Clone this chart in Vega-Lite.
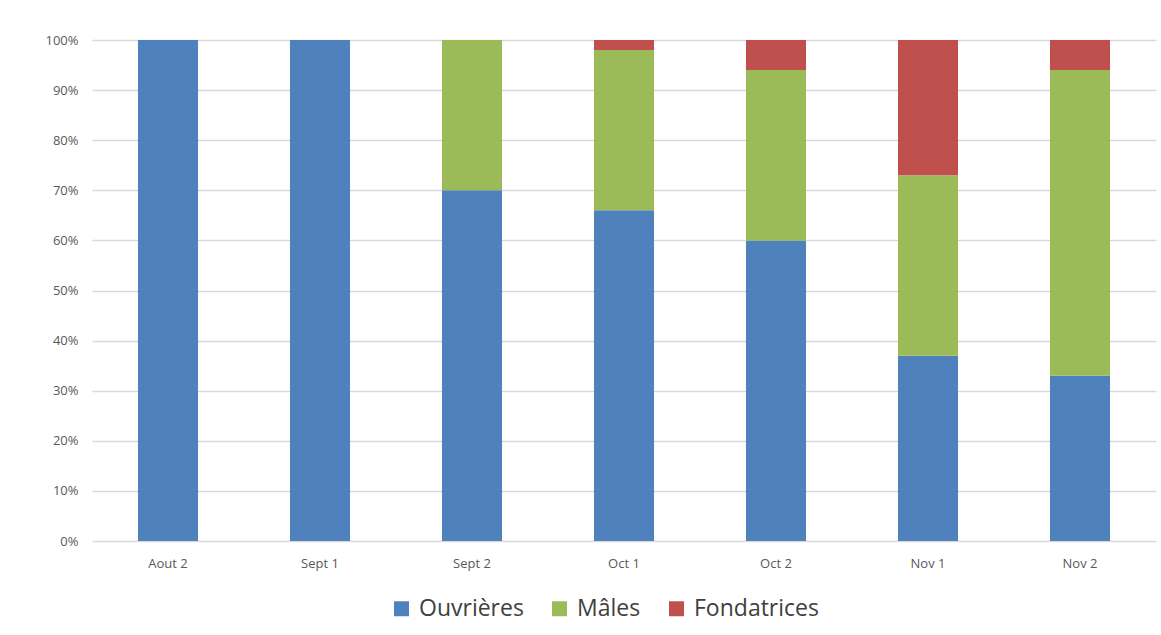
{
  "$schema": "https://vega.github.io/schema/vega-lite/v6.json",
  "width": 1064,
  "height": 501,
  "autosize": {"type": "none"},
  "padding": {"left": 92, "top": 40, "right": 5, "bottom": 94},
  "background": "white",
  "config": {
    "view": {"stroke": null},
    "font": "Open Sans",
    "axis": {"labelColor": "#595959", "labelFont": "Open Sans"}
  },
  "data": {
    "values": [
      {"periode": "Aout 2", "caste": "Ouvrières", "ordre": 1, "part": 1.00},
      {"periode": "Sept 1", "caste": "Ouvrières", "ordre": 1, "part": 1.00},
      {"periode": "Sept 2", "caste": "Ouvrières", "ordre": 1, "part": 0.70},
      {"periode": "Sept 2", "caste": "Mâles", "ordre": 2, "part": 0.30},
      {"periode": "Oct 1", "caste": "Ouvrières", "ordre": 1, "part": 0.66},
      {"periode": "Oct 1", "caste": "Mâles", "ordre": 2, "part": 0.32},
      {"periode": "Oct 1", "caste": "Fondatrices", "ordre": 3, "part": 0.02},
      {"periode": "Oct 2", "caste": "Ouvrières", "ordre": 1, "part": 0.60},
      {"periode": "Oct 2", "caste": "Mâles", "ordre": 2, "part": 0.34},
      {"periode": "Oct 2", "caste": "Fondatrices", "ordre": 3, "part": 0.06},
      {"periode": "Nov 1", "caste": "Ouvrières", "ordre": 1, "part": 0.37},
      {"periode": "Nov 1", "caste": "Mâles", "ordre": 2, "part": 0.36},
      {"periode": "Nov 1", "caste": "Fondatrices", "ordre": 3, "part": 0.27},
      {"periode": "Nov 2", "caste": "Ouvrières", "ordre": 1, "part": 0.33},
      {"periode": "Nov 2", "caste": "Mâles", "ordre": 2, "part": 0.61},
      {"periode": "Nov 2", "caste": "Fondatrices", "ordre": 3, "part": 0.06}
    ]
  },
  "mark": {"type": "bar"},
  "encoding": {
    "x": {
      "field": "periode",
      "type": "nominal",
      "sort": ["Aout 2", "Sept 1", "Sept 2", "Oct 1", "Oct 2", "Nov 1", "Nov 2"],
      "scale": {"paddingInner": 0.605, "paddingOuter": 0.3025},
      "axis": {
        "title": null,
        "labelAngle": 0,
        "labelFontSize": 13,
        "labelPadding": 16,
        "domain": false,
        "ticks": false,
        "grid": false
      }
    },
    "y": {
      "field": "part",
      "type": "quantitative",
      "stack": "zero",
      "scale": {"domain": [0, 1], "nice": false},
      "axis": {
        "title": null,
        "format": ".0%",
        "values": [0, 0.1, 0.2, 0.3, 0.4, 0.5, 0.6, 0.7, 0.8, 0.9, 1.0],
        "labelFontSize": 13,
        "labelPadding": 14,
        "domain": false,
        "ticks": false,
        "grid": true,
        "gridColor": "#d9d9d9",
        "gridWidth": 1.5
      }
    },
    "color": {
      "field": "caste",
      "type": "nominal",
      "scale": {
        "domain": ["Ouvrières", "Mâles", "Fondatrices"],
        "range": ["#4f81bd", "#9bbb59", "#c0504d"]
      },
      "legend": {
        "title": null,
        "orient": "none",
        "direction": "horizontal",
        "legendX": 298,
        "legendY": 557,
        "symbolType": "square",
        "symbolSize": 225,
        "symbolStrokeWidth": 0,
        "symbolOpacity": 1,
        "labelFontSize": 23,
        "labelColor": "#404040",
        "labelFont": "Open Sans",
        "columnPadding": 24,
        "labelOffset": 6
      }
    },
    "order": {"field": "ordre", "type": "quantitative"}
  }
}
